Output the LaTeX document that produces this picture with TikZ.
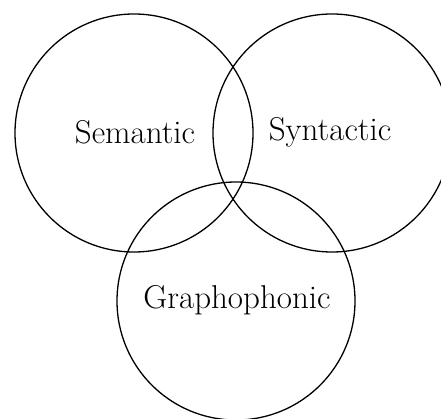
\documentclass[tikz,border=0pt]{standalone}
\begin{document}
\begin{tikzpicture}[x=1pt,y=-1pt,
  venn/.style={circle,draw,line width=1.3pt,minimum size=238pt,inner sep=0pt},
  lbl/.style={font=\fontsize{33}{40}\selectfont,inner sep=0pt}]
\useasboundingbox (0,0) rectangle (441,419);
\node[venn] (sem) at (134,133) {};
\node[venn] (syn) at (332,133) {};
\node[venn] (gra) at (236,301) {};
\node[lbl] (tsem) at (135,132) {Semantic};
\node[lbl] (tsyn) at (330,132) {Syntactic};
\node[lbl] (tgra) at (237,300) {Graphophonic};
\end{tikzpicture}
\end{document}
